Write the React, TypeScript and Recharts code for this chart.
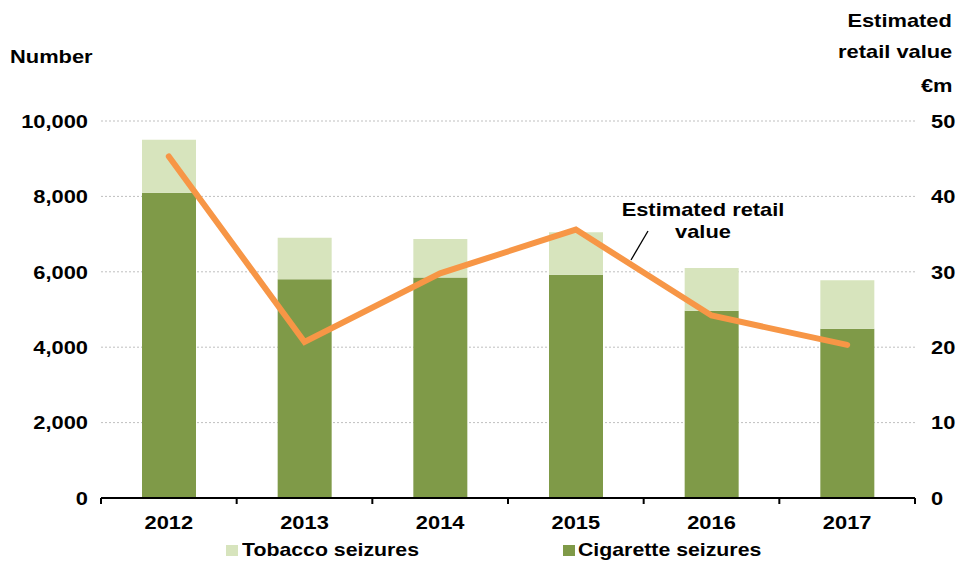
import { ComposedChart, Bar, Line, XAxis, YAxis, CartesianGrid } from "recharts"

const years = ["2012", "2013", "2014", "2015", "2016", "2017"]
const cigaretteSeizures = [8100, 5800, 5850, 5920, 4970, 4490]
const tobaccoSeizures = [1400, 1100, 1020, 1130, 1130, 1285]
const retailValue = [45.3, 20.7, 29.8, 35.6, 24.2, 20.3]

const leftTicks = [0, 2000, 4000, 6000, 8000, 10000]
const rightTicks = [0, 10, 20, 30, 40, 50]
const edgeTicks = [0, 1, 2, 3, 4, 5, 6]

const seriesNames = { tobacco: "Tobacco seizures", cigarette: "Cigarette seizures" }
const colors = { tobacco: "#D7E4BD", cigarette: "#7F9A48", line: "#F79646" }

const data = years.map((year, i) => ({
  year,
  pos: i + 0.5,
  cigarette: cigaretteSeizures[i],
  tobacco: tobaccoSeizures[i],
  retail: retailValue[i],
}))

const font = '"Liberation Sans", Arial, sans-serif'
const stretch = 1.15

// the original text looks horizontally stretched, so ticks get a scaleX
function StretchTick(props: any) {
  const { x, y, payload, textAnchor, formatter, dy } = props
  const label = formatter ? formatter(payload.value) : payload.value
  return (
    <text
      transform={`translate(${x},${y}) scale(${stretch},1)`}
      textAnchor={textAnchor}
      dy={dy}
      fontSize={19}
      fontWeight={700}
      fontFamily={font}
      fill="#000"
    >
      {label}
    </text>
  )
}

const NoLabel = () => <g />

const textStyle: React.CSSProperties = {
  position: "absolute",
  fontFamily: font,
  fontWeight: 700,
  fontSize: 19,
  color: "#000",
  lineHeight: "22px",
  whiteSpace: "nowrap",
  transform: `scaleX(${stretch})`,
}

const fmt = (v: number) => v.toLocaleString("en-US")

export default function App() {
  return (
    <div style={{ position: "absolute", left: 0, top: 0, width: 958, height: 561, background: "#fff" }}>
      <ComposedChart
        width={958}
        height={561}
        data={data}
        margin={{ top: 121, right: 0, bottom: 33, left: 0 }}
        barSize={54}
      >
        <CartesianGrid
          xAxisId="cat"
          yAxisId="left"
          vertical={false}
          stroke="#BFBFBF"
          strokeDasharray="2 2"
        />
        <XAxis
          xAxisId="cat"
          dataKey="year"
          axisLine={false}
          tickLine={false}
          tick={<StretchTick dy="0.75em" />}
          tickMargin={10}
          height={29}
        />
        {/* second axis only for the black base line with ticks between the years */}
        <XAxis
          xAxisId="a"
          dataKey="pos"
          type="number"
          domain={[0, 6]}
          ticks={edgeTicks}
          allowDataOverflow
          tick={<NoLabel />}
          tickSize={6}
          height={1}
          axisLine={{ stroke: "#000", strokeWidth: 2 }}
          tickLine={{ stroke: "#000", strokeWidth: 2 }}
        />
        <YAxis
          yAxisId="left"
          domain={[0, 10000]}
          ticks={leftTicks}
          axisLine={false}
          tickLine={false}
          tickMargin={7}
          width={101}
          tick={<StretchTick dy="0.355em" formatter={fmt} />}
        />
        <YAxis
          yAxisId="right"
          orientation="right"
          domain={[0, 50]}
          ticks={rightTicks}
          axisLine={false}
          tickLine={false}
          tickMargin={10}
          width={43}
          tick={<StretchTick dy="0.355em" />}
        />
        <Bar
          xAxisId="cat"
          yAxisId="left"
          dataKey="cigarette"
          name={seriesNames.cigarette}
          stackId="s"
          fill={colors.cigarette}
          isAnimationActive={false}
        />
        <Bar
          xAxisId="cat"
          yAxisId="left"
          dataKey="tobacco"
          name={seriesNames.tobacco}
          stackId="s"
          fill={colors.tobacco}
          isAnimationActive={false}
        />
        <Line
          xAxisId="cat"
          yAxisId="right"
          dataKey="retail"
          stroke={colors.line}
          strokeWidth={6}
          strokeLinecap="round"
          dot={false}
          activeDot={false}
          isAnimationActive={false}
        />
      </ComposedChart>

      {/* axis titles */}
      <div style={{ ...textStyle, left: 10, top: 46, transformOrigin: "left" }}>Number</div>
      <div style={{ ...textStyle, right: 6, top: 10, textAlign: "right", transformOrigin: "right" }}>Estimated</div>
      <div style={{ ...textStyle, right: 6, top: 41, textAlign: "right", transformOrigin: "right" }}>retail value</div>
      <div style={{ ...textStyle, right: 6, top: 75, textAlign: "right", transformOrigin: "right" }}>€m</div>

      {/* line annotation */}
      <div style={{ ...textStyle, left: 603, top: 199, width: 200, textAlign: "center" }}>
        Estimated retail
        <br />
        value
      </div>
      <svg style={{ position: "absolute", left: 0, top: 0 }} width={958} height={561} pointerEvents="none">
        <line x1={648} y1={231} x2={631} y2={260} stroke="#000" strokeWidth={1.3} />
      </svg>

      {/* legend */}
      <div style={{ position: "absolute", left: 226, top: 545, width: 12, height: 11, background: colors.tobacco }} />
      <div style={{ ...textStyle, left: 242, top: 539, transformOrigin: "left", transform: "scaleX(1.12)" }}>{seriesNames.tobacco}</div>
      <div style={{ position: "absolute", left: 563, top: 545, width: 12, height: 11, background: colors.cigarette }} />
      <div style={{ ...textStyle, left: 578, top: 539, transformOrigin: "left", transform: "scaleX(1.12)" }}>{seriesNames.cigarette}</div>
    </div>
  )
}
